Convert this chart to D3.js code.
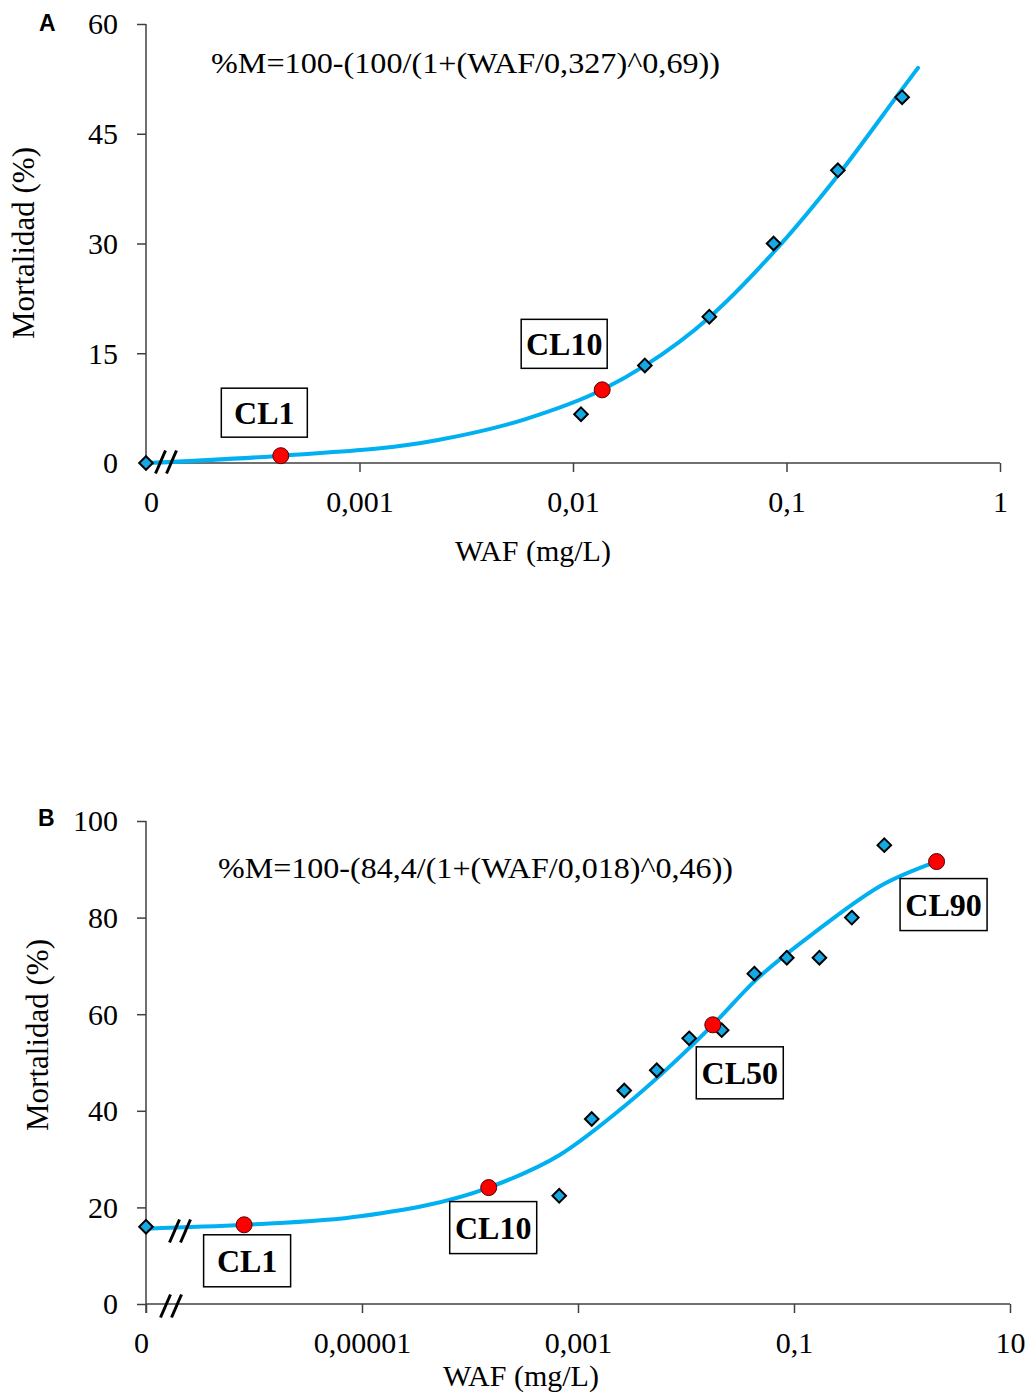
<!DOCTYPE html>
<html><head><meta charset="utf-8">
<script src="https://cdn.jsdelivr.net/npm/d3@7"></script>
<style>body{margin:0;background:#fff}</style>
</head><body><div id="chart"></div>
<script>
// ---------- Panel A data ----------
const wafA = [0, 0.0109, 0.0217, 0.0435, 0.087, 0.174, 0.348];
const mortA = [0, 6.67, 13.33, 20, 30, 40, 50];
const curveXA = [0, 0.000428, 0.0023, 0.006, 0.0137, 0.0217, 0.0435, 0.087, 0.174, 0.348, 0.413];
const curveYA = [0, 1.0, 3.1, 6.0, 10.0, 13.3, 19.9, 28.8, 39.3, 51.1, 54.0];
const clNamesA = ["CL1", "CL10"];
const clXA = [0.000428, 0.0137];
const clYA = [1.0, 10.0];
const xTicksA = [0.0001, 0.001, 0.01, 0.1, 1];
const xTickLabelsA = ["0", "0,001", "0,01", "0,1", "1"];
const yTicksA = [0, 15, 30, 45, 60];
const equationA = "%M=100-(100/(1+(WAF/0,327)^0,69))";

// ---------- Panel B data ----------
const wafB = [0, 0.00067, 0.00134, 0.00268, 0.00536, 0.0107, 0.0214, 0.0429, 0.0858, 0.172, 0.343, 0.686];
const mortB = [16, 22.4, 38.3, 44.2, 48.4, 55, 56.7, 68.4, 71.7, 71.7, 80, 95];
const curveXB = [0, 8.1e-7, 1e-5, 0.000149, 0.00067, 0.0027, 0.0177, 0.043, 0.17, 0.686, 2.09];
const curveYB = [15.6, 16.4, 18.2, 24.1, 30.8, 41.0, 57.8, 66.8, 77.6, 87.0, 91.6];
const clNamesB = ["CL1", "CL10", "CL50", "CL90"];
const clXB = [8.1e-7, 0.000149, 0.0177, 2.09];
const clYB = [16.4, 24.1, 57.8, 91.6];
const xTicksB = [1e-7, 1e-5, 0.001, 0.1, 10];
const xTickLabelsB = ["0", "0,00001", "0,001", "0,1", "10"];
const yTicksB = [0, 20, 40, 60, 80, 100];
const equationB = "%M=100-(84,4/(1+(WAF/0,018)^0,46))";

const xTitle = "WAF (mg/L)";
const yTitle = "Mortalidad (%)";

// ---------- layout ----------
const W = 1031, H = 1398;
const svg = d3.select("#chart").append("svg").attr("width", W).attr("height", H)
  .style("font-family", "'Liberation Serif','Times New Roman',serif");

const panels = [
  {
    letter: "A", letterX: 39, letterY: 31,
    xDomain: [1e-4, 1], xRange: [146, 1000],
    yDomain: [0, 60], yRange: [463, 24],
    waf: wafA, mort: mortA, cx: curveXA, cy: curveYA,
    cln: clNamesA, clx: clXA, cly: clYA,
    xt: xTicksA, xtl: xTickLabelsA, yt: yTicksA,
    eq: equationA, eqX: 211, eqY: 73, eqLen: 509,
    zeroLabelDx: 5, showZeroTicks: false, yAxisBottomExt: 0,
    xTitleX: 533, xTitleY: 561, yTitleX: 34, yTitleY: 243,
    boxW: 86, boxH: 49,
    boxOff: [[-16.5, -43], [-38, -46]],
    breaks: [[166, 462]]
  },
  {
    letter: "B", letterX: 38, letterY: 826,
    xDomain: [1e-7, 10], xRange: [146, 1010],
    yDomain: [0, 100], yRange: [1304, 821],
    waf: wafB, mort: mortB, cx: curveXB, cy: curveYB,
    cln: clNamesB, clx: clXB, cly: clYB,
    xt: xTicksB, xtl: xTickLabelsB, yt: yTicksB,
    eq: equationB, eqX: 218, eqY: 878, eqLen: 515,
    zeroLabelDx: -5, showZeroTicks: true, yAxisBottomExt: 9,
    xTitleX: 521, xTitleY: 1386, yTitleX: 48, yTitleY: 1035,
    boxW: 87, boxH: 52,
    boxOff: [[3, 36], [4.5, 40], [27, 48], [7, 43]],
    breaks: [[180, 1231], [171, 1306]]
  }
];

const axisColor = "#404040";
const curveColor = "#00B0F0";

panels.forEach(p => {
  const xLog = d3.scaleLog().domain(p.xDomain).range(p.xRange);
  const x = v => v === 0 ? xLog(p.xDomain[0]) : xLog(v);
  const y = d3.scaleLinear().domain(p.yDomain).range(p.yRange);
  const g = svg.append("g");
  const x0 = p.xRange[0], y0 = p.yRange[0];

  // Y axis
  const yAxis = d3.axisLeft(y).tickValues(p.yt).tickSize(9).tickSizeOuter(0).tickFormat(d3.format("d"));
  const ya = g.append("g").attr("transform", `translate(${x0},0)`).call(yAxis);
  ya.select(".domain").attr("stroke", axisColor).attr("stroke-width", 1.5)
    .attr("d", `M0,${p.yRange[1]}V${y0 + p.yAxisBottomExt}`);
  ya.selectAll(".tick line").attr("stroke", axisColor).attr("stroke-width", 1.5);
  if (!p.showZeroTicks) ya.selectAll(".tick").filter(d => d === 0).select("line").remove();
  ya.selectAll(".tick text").attr("x", -28).attr("dy", "0.33em")
    .style("font-size", "30px").style("font-family", "'Liberation Serif',serif").attr("fill", "#000");

  // X axis
  const xAxis = d3.axisBottom(xLog).tickValues(p.xt).tickSize(9).tickSizeOuter(0)
    .tickFormat((d, i) => p.xtl[i]);
  const xa = g.append("g").attr("transform", `translate(0,${y0})`).call(xAxis);
  xa.select(".domain").attr("stroke", axisColor).attr("stroke-width", 1.5)
    .attr("d", `M${x0},0H${p.xRange[1]}`);
  xa.selectAll(".tick line").attr("stroke", axisColor).attr("stroke-width", 1.5);
  if (!p.showZeroTicks) xa.selectAll(".tick").filter((d, i) => i === 0).select("line").remove();
  xa.selectAll(".tick text").attr("y", 49).attr("dy", 0)
    .attr("dx", (d, i) => i === 0 ? p.zeroLabelDx : 0)
    .style("font-size", "30px").style("font-family", "'Liberation Serif',serif").attr("fill", "#000");

  // Titles
  g.append("text").attr("x", p.xTitleX).attr("y", p.xTitleY).attr("text-anchor", "middle")
    .style("font-size", "30px").text(xTitle);
  g.append("text").attr("transform", `translate(${p.yTitleX},${p.yTitleY}) rotate(-90)`)
    .attr("text-anchor", "middle").style("font-size", "31px").text(yTitle);
  g.append("text").attr("x", p.letterX).attr("y", p.letterY)
    .style("font-family", "'Liberation Sans',Arial,sans-serif").style("font-weight", "bold")
    .style("font-size", "23px").text(p.letter);

  // Equation
  g.append("text").attr("x", p.eqX).attr("y", p.eqY).style("font-size", "30px")
    .attr("textLength", p.eqLen).attr("lengthAdjust", "spacingAndGlyphs").text(p.eq);

  // Fitted curve
  const pts = p.cx.map((v, i) => [x(v), y(p.cy[i])]);
  g.append("path").attr("d", d3.line().curve(d3.curveMonotoneX)(pts))
    .attr("fill", "none").attr("stroke", curveColor).attr("stroke-width", 4)
    .attr("stroke-linecap", "round");

  // Observed points (diamonds)
  const diamond = d3.symbol().type(d3.symbolDiamond2).size(118);
  g.selectAll(".obs").data(p.waf.map((v, i) => [v, p.mort[i]])).enter().append("path")
    .attr("transform", d => `translate(${x(d[0])},${y(d[1])})`)
    .attr("d", diamond).attr("fill", "#14A8E4").attr("stroke", "#000").attr("stroke-width", 2);

  // CL points
  g.selectAll(".cl").data(p.clx.map((v, i) => [v, p.cly[i]])).enter().append("circle")
    .attr("cx", d => x(d[0])).attr("cy", d => y(d[1])).attr("r", 8)
    .attr("fill", "#FF0000").attr("stroke", "#5a0000").attr("stroke-width", 1);

  // CL label boxes
  p.cln.forEach((name, i) => {
    const cx = x(p.clx[i]) + p.boxOff[i][0];
    const cy = y(p.cly[i]) + p.boxOff[i][1];
    g.append("rect").attr("x", cx - p.boxW / 2).attr("y", cy - p.boxH / 2)
      .attr("width", p.boxW).attr("height", p.boxH)
      .attr("fill", "#fff").attr("stroke", "#000").attr("stroke-width", 1.5);
    g.append("text").attr("x", cx).attr("y", cy + 11).attr("text-anchor", "middle")
      .style("font-size", "32px").style("font-weight", "bold").text(name);
  });

  // Axis break marks
  p.breaks.forEach(b => {
    [-5.5, 5.5].forEach(off => {
      g.append("line")
        .attr("x1", b[0] + off - 5).attr("y1", b[1] + 11.5)
        .attr("x2", b[0] + off + 5).attr("y2", b[1] - 11.5)
        .attr("stroke", "#000").attr("stroke-width", 3);
    });
  });
});
</script>
</body></html>
